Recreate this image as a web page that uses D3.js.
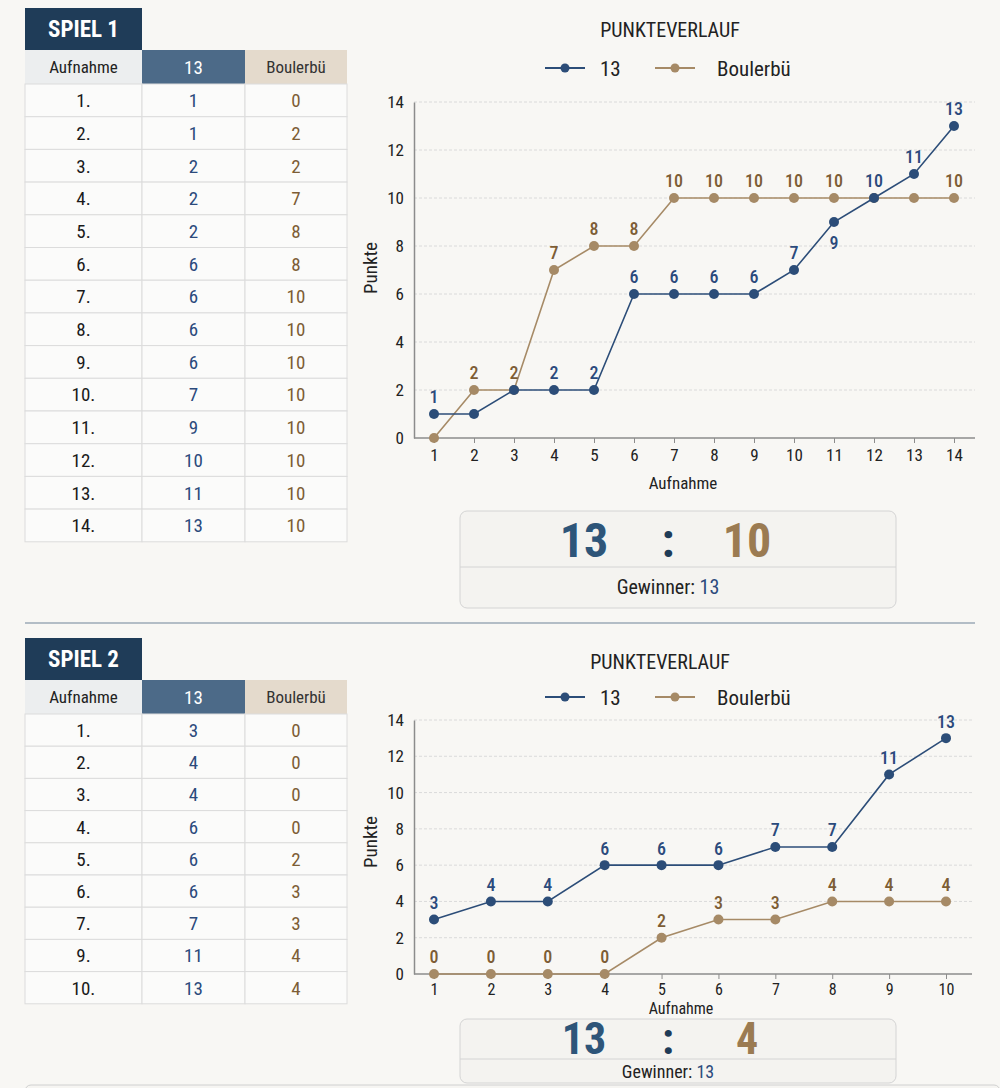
<!DOCTYPE html>
<html>
<head>
<meta charset="utf-8">
<script src="https://cdn.jsdelivr.net/npm/d3@7"></script>
<style>
  body { margin: 0; background: #f8f7f4; }
  svg { display: block; font-family: "Roboto Condensed", "Liberation Sans Narrow", "DejaVu Sans Condensed", Roboto, sans-serif; }
</style>
</head>
<body>
<svg id="chart" width="1000" height="1088"></svg>
<script>
// --- data ---
const teamNames = ['13', 'Boulerbü']
const yTicks = [0, 2, 4, 6, 8, 10, 12, 14]

// Spiel 1
const game1Rounds = ['1.', '2.', '3.', '4.', '5.', '6.', '7.', '8.', '9.', '10.', '11.', '12.', '13.', '14.']
const game1Team = [1, 1, 2, 2, 2, 6, 6, 6, 6, 7, 9, 10, 11, 13]
const game1Opp = [0, 2, 2, 7, 8, 8, 10, 10, 10, 10, 10, 10, 10, 10]
const game1TeamLabels = ['1', null, null, '2', '2', '6', '6', '6', '6', '7', '9', '10', '11', '13']
const game1OppLabels = [null, '2', '2', '7', '8', '8', '10', '10', '10', '10', '10', null, null, '10']
const game1TeamBelow = [10]
const game1Score = [13, 10]

// Spiel 2 (table skips row 8, chart has all 10)
const game2Rounds = ['1.', '2.', '3.', '4.', '5.', '6.', '7.', '9.', '10.']
const game2TableTeam = [3, 4, 4, 6, 6, 6, 7, 11, 13]
const game2TableOpp = [0, 0, 0, 0, 2, 3, 3, 4, 4]
const game2Team = [3, 4, 4, 6, 6, 6, 7, 7, 11, 13]
const game2Opp = [0, 0, 0, 0, 2, 3, 3, 4, 4, 4]
const game2TeamLabels = ['3', '4', '4', '6', '6', '6', '7', '7', '11', '13']
const game2OppLabels = ['0', '0', '0', '0', '2', '3', '3', '4', '4', '4']
const game2TeamBelow = []
const game2Score = [13, 4]

// --- styles ---
const colors = {
  navy: '#1f3c58',
  headBlue: '#4c6a88',
  headGray: '#eceeef',
  headBeige: '#e4dacc',
  cell: '#fbfbfa',
  border: '#dcdcdc',
  team: '#2c4d78',
  opp: '#a68a66',
  oppText: '#7d5d35',
  teamText: '#2b4a7c',
  grid: '#dadada',
  axis: '#8c8c8c'
}
const colX = [25, 142, 245, 347]

const svg = d3.select('#chart')

function drawTable (g, L, title, rounds, team, opp) {
  g.append('rect')
    .attr('x', colX[0]).attr('y', L.top)
    .attr('width', colX[1] - colX[0]).attr('height', L.titleH)
    .attr('fill', colors.navy)
  g.append('text')
    .attr('x', (colX[0] + colX[1]) / 2).attr('y', L.top + L.titleH / 2)
    .attr('dy', '0.36em').attr('text-anchor', 'middle')
    .attr('fill', '#fff').attr('font-size', 23).attr('font-weight', 700)
    .text(title)

  const headTop = L.top + L.titleH
  const heads = [
    { t: 'Aufnahme', fill: colors.headGray, color: '#222', size: 17 },
    { t: teamNames[0], fill: colors.headBlue, color: '#fff', size: 19 },
    { t: teamNames[1], fill: colors.headBeige, color: '#333', size: 17 }
  ]
  g.selectAll('rect.head').data(heads).join('rect')
    .attr('class', 'head')
    .attr('x', (d, i) => colX[i]).attr('y', headTop)
    .attr('width', (d, i) => colX[i + 1] - colX[i]).attr('height', L.headH)
    .attr('fill', d => d.fill)
  g.selectAll('text.head').data(heads).join('text')
    .attr('class', 'head')
    .attr('x', (d, i) => (colX[i] + colX[i + 1]) / 2).attr('y', headTop + L.headH / 2)
    .attr('dy', '0.36em').attr('text-anchor', 'middle')
    .attr('fill', d => d.color).attr('font-size', d => d.size)
    .text(d => d.t)

  const bodyTop = headTop + L.headH
  const rows = rounds.map((r, i) => [r, team[i], opp[i]])
  const rowG = g.selectAll('g.row').data(rows).join('g')
    .attr('class', 'row')
    .attr('transform', (d, i) => `translate(0,${bodyTop + i * L.rowH})`)
  rowG.selectAll('rect').data(d => d).join('rect')
    .attr('x', (d, i) => colX[i]).attr('width', (d, i) => colX[i + 1] - colX[i])
    .attr('height', L.rowH)
    .attr('fill', colors.cell).attr('stroke', colors.border)
  const textColors = ['#1a1a1a', colors.teamText, colors.oppText]
  rowG.selectAll('text').data(d => d).join('text')
    .attr('x', (d, i) => (colX[i] + colX[i + 1]) / 2).attr('y', L.rowH / 2)
    .attr('dy', '0.36em').attr('text-anchor', 'middle')
    .attr('font-size', 19)
    .attr('fill', (d, i) => textColors[i])
    .text(d => d)
}

function drawChart (g, L, team, opp, teamLabels, oppLabels, teamBelow) {
  const n = team.length
  const rounds = d3.range(1, n + 1)
  const x = d3.scaleLinear().domain([1, n]).range([L.x0, L.x1])
  const y = d3.scaleLinear().domain([0, 14]).range([L.bottom, L.top])

  g.append('text')
    .attr('x', L.titleX).attr('y', L.titleY)
    .attr('dy', '0.36em').attr('text-anchor', 'middle')
    .attr('font-size', 20).attr('fill', '#222')
    .text('PUNKTEVERLAUF')

  // legend
  const legend = [
    { name: teamNames[0], color: colors.team, x: 545 },
    { name: teamNames[1], color: colors.opp, x: 655 }
  ]
  const lg = g.selectAll('g.legend').data(legend).join('g')
    .attr('class', 'legend')
    .attr('transform', d => `translate(${d.x},${L.legendY})`)
  lg.append('line').attr('x2', 40).attr('stroke', d => d.color).attr('stroke-width', 2)
  lg.append('circle').attr('cx', 20).attr('r', 4.5).attr('fill', d => d.color)
  lg.append('text')
    .attr('x', (d, i) => i === 0 ? 55 : 62).attr('dy', '0.36em')
    .attr('font-size', 21).attr('fill', '#222')
    .text(d => d.name)

  // grid
  g.append('g').selectAll('line').data(yTicks.filter(d => d > 0)).join('line')
    .attr('x1', L.axisLeft).attr('x2', L.axisRight)
    .attr('y1', d => y(d)).attr('y2', d => y(d))
    .attr('stroke', colors.grid).attr('stroke-dasharray', '3,2')

  const yAxis = g.append('g')
    .attr('transform', `translate(${L.axisLeft},0)`)
    .call(d3.axisLeft(y).tickValues(yTicks).tickSize(0).tickPadding(10))
    .attr('font-family', null).attr('font-size', null)
  yAxis.select('.domain').attr('stroke', colors.axis).attr('stroke-width', 1.5)
  yAxis.selectAll('text').attr('font-size', 17).attr('fill', '#222')

  const xAxis = g.append('g')
    .attr('transform', `translate(0,${L.bottom})`)
    .call(d3.axisBottom(x).tickValues(rounds).tickFormat(d3.format('d')).tickSize(5).tickPadding(L.tickPad))
    .attr('font-family', null).attr('font-size', null)
  xAxis.select('.domain').remove()
  xAxis.selectAll('.tick line').attr('stroke', colors.axis)
  xAxis.selectAll('text').attr('font-size', L.tickSize).attr('fill', '#222')
  g.append('line')
    .attr('x1', L.axisLeft).attr('x2', L.axisRight)
    .attr('y1', L.bottom).attr('y2', L.bottom)
    .attr('stroke', colors.axis).attr('stroke-width', 1.5)

  g.append('text')
    .attr('x', L.xTitleX).attr('y', L.xTitleY)
    .attr('dy', '0.36em').attr('text-anchor', 'middle')
    .attr('font-size', L.tickSize).attr('fill', '#222')
    .text('Aufnahme')
  g.append('text')
    .attr('transform', `translate(${L.yTitleX},${L.yTitleY}) rotate(-90)`)
    .attr('dy', '0.36em').attr('text-anchor', 'middle')
    .attr('font-size', 19).attr('fill', '#222')
    .text('Punkte')

  const series = [
    { values: opp, labels: oppLabels, color: colors.opp, text: colors.oppText, below: [] },
    { values: team, labels: teamLabels, color: colors.team, text: colors.teamText, below: teamBelow }
  ]
  const line = d3.line().x((d, i) => x(i + 1)).y(d => y(d))
  series.forEach(s => {
    g.append('path').datum(s.values)
      .attr('d', line).attr('fill', 'none')
      .attr('stroke', s.color).attr('stroke-width', 1.6)
    g.append('g').selectAll('circle').data(s.values).join('circle')
      .attr('cx', (d, i) => x(i + 1)).attr('cy', d => y(d))
      .attr('r', 5).attr('fill', s.color)
  })
  series.forEach(s => {
    const lbl = s.labels.map((t, i) => ({ t, i })).filter(d => d.t !== null)
    g.append('g').selectAll('text').data(lbl).join('text')
      .attr('x', d => x(d.i + 1))
      .attr('y', d => y(s.values[d.i]) + (s.below.includes(d.i) ? 21 : -17))
      .attr('dy', '0.36em').attr('text-anchor', 'middle')
      .attr('font-size', 18).attr('font-weight', 500)
      .attr('fill', s.text)
      .text(d => d.t)
  })
}

function drawScore (g, L, score) {
  g.append('rect')
    .attr('x', 460).attr('y', L.top).attr('width', 436).attr('height', L.h)
    .attr('rx', 7).attr('fill', '#f4f3f0').attr('stroke', '#d4d4d4')
  g.append('line')
    .attr('x1', 460).attr('x2', 896).attr('y1', L.divider).attr('y2', L.divider)
    .attr('stroke', '#d4d4d4')
  const parts = [
    { t: score[0], x: 584, color: '#2e5579' },
    { t: ':', x: 668, color: '#1f3c58' },
    { t: score[1], x: 747, color: '#9b7b52' }
  ]
  g.selectAll('text.score').data(parts).join('text')
    .attr('class', 'score')
    .attr('x', d => d.x).attr('y', L.scoreY)
    .attr('text-anchor', 'middle')
    .attr('font-size', L.size).attr('font-weight', 700)
    .attr('fill', d => d.color)
    .text(d => d.t)
  const w = g.append('text')
    .attr('x', 668).attr('y', L.winY)
    .attr('dy', '0.36em').attr('text-anchor', 'middle')
    .attr('font-size', L.winSize).attr('fill', '#222')
  w.append('tspan').text('Gewinner: ')
  w.append('tspan').attr('fill', colors.teamText).text(score[0] > score[1] ? teamNames[0] : teamNames[1])
}

// --- Spiel 1 ---
const g1 = svg.append('g')
drawTable(g1, { top: 8, titleH: 42, headH: 34, rowH: 32.7 }, 'SPIEL 1', game1Rounds, game1Team, game1Opp)
drawChart(g1, {
  titleX: 670, titleY: 30, legendY: 68,
  top: 102, bottom: 438, x0: 434, x1: 954, axisLeft: 414, axisRight: 975,
  tickSize: 17, tickPad: 6,
  xTitleX: 683, xTitleY: 483, yTitleX: 370, yTitleY: 268
}, game1Team, game1Opp, game1TeamLabels, game1OppLabels, game1TeamBelow)
drawScore(g1, { top: 511, h: 97, divider: 567, scoreY: 557, size: 48, winY: 587, winSize: 20 }, game1Score)

svg.append('line')
  .attr('x1', 25).attr('x2', 975).attr('y1', 623).attr('y2', 623)
  .attr('stroke', '#6f8398').attr('stroke-width', 1.2)

// --- Spiel 2 ---
const g2 = svg.append('g')
drawTable(g2, { top: 638, titleH: 42, headH: 34, rowH: 32.2 }, 'SPIEL 2', game2Rounds, game2TableTeam, game2TableOpp)
drawChart(g2, {
  titleX: 660, titleY: 662, legendY: 697,
  top: 720, bottom: 974, x0: 434, x1: 946, axisLeft: 414, axisRight: 972,
  tickSize: 16, tickPad: 5,
  xTitleX: 681, xTitleY: 1008, yTitleX: 370, yTitleY: 842
}, game2Team, game2Opp, game2TeamLabels, game2OppLabels, game2TeamBelow)
drawScore(g2, { top: 1019, h: 64, divider: 1059, scoreY: 1054, size: 44, winY: 1072, winSize: 18 }, game2Score)

// next panel starting at the bottom edge
svg.append('rect')
  .attr('x', 25).attr('y', 1085).attr('width', 975).attr('height', 40)
  .attr('rx', 6).attr('fill', '#f6f5f2').attr('stroke', '#d0d0d0')
</script>
</body>
</html>
